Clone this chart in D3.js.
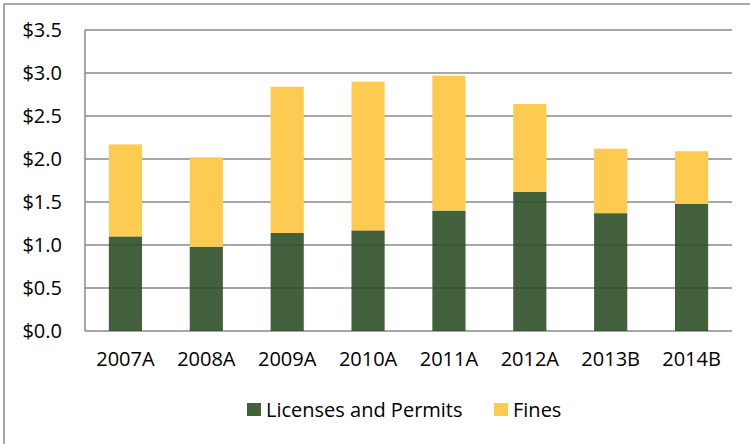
<!DOCTYPE html>
<html>
<head>
<meta charset="utf-8">
<script src="https://cdn.jsdelivr.net/npm/d3@7"></script>
<style>
  html, body { margin: 0; padding: 0; background: #fff; }
  svg { display: block; }
  text { font-family: "Open Sans", sans-serif; fill: #000; }
</style>
</head>
<body>
<svg id="chart" width="750" height="444"></svg>
<script>
const categories = ["2007A", "2008A", "2009A", "2010A", "2011A", "2012A", "2013B", "2014B"];
const licensesAndPermits = [1.10, 0.98, 1.14, 1.17, 1.40, 1.62, 1.37, 1.48];
const fines = [1.07, 1.04, 1.70, 1.73, 1.57, 1.02, 0.75, 0.61];
const yTicks = [0, 0.5, 1.0, 1.5, 2.0, 2.5, 3.0, 3.5];
const seriesNames = ["Licenses and Permits", "Fines"];
const seriesColors = ["#2e4f27", "#fdcb52"];

const svg = d3.select("#chart");
const margin = { left: 85, right: 18, top: 30, bottom: 113 };
const W = 750, H = 444;
const FONT = "'Open Sans', sans-serif";

// outer frame (top and left edges visible)
svg.append("rect")
  .attr("x", 4).attr("y", 4)
  .attr("width", 800).attr("height", 500)
  .attr("fill", "none").attr("stroke", "#8c8c8c").attr("stroke-width", 1.5);

const x = d3.scaleBand()
  .domain(categories)
  .range([margin.left, W - margin.right])
  .paddingInner(0.59).paddingOuter(0.295);

const y = d3.scaleLinear()
  .domain([0, 3.5])
  .range([H - margin.bottom, margin.top]);

// gridlines
svg.append("g")
  .selectAll("line")
  .data(yTicks)
  .join("line")
  .attr("x1", margin.left).attr("x2", W - margin.right)
  .attr("y1", d => y(d)).attr("y2", d => y(d))
  .attr("stroke", "#8a8a8a").attr("stroke-width", 1.5);

// left axis line
svg.append("line")
  .attr("x1", margin.left).attr("x2", margin.left)
  .attr("y1", y(3.5)).attr("y2", y(0))
  .attr("stroke", "#8a8a8a").attr("stroke-width", 1.5);

// y axis labels
const yAxis = d3.axisLeft(y).tickValues(yTicks)
  .tickFormat(d => "$" + d3.format(".1f")(d))
  .tickSize(0).tickPadding(23);
const gy = svg.append("g").attr("transform", `translate(${margin.left},0)`).call(yAxis);
gy.select(".domain").remove();
gy.selectAll("text").style("font-size", "20px").style("font-family", FONT).attr("fill", "#000");

// x axis labels
const xAxis = d3.axisBottom(x).tickSize(0).tickPadding(21);
const gx = svg.append("g").attr("transform", `translate(0,${y(0)})`).call(xAxis);
gx.select(".domain").remove();
gx.selectAll("text").style("font-size", "20px").style("font-family", FONT).attr("fill", "#000");

// stacked data
const rows = categories.map((c, i) => ({ cat: c, lp: licensesAndPermits[i], fines: fines[i] }));
const stack = d3.stack().keys(["lp", "fines"])(rows);

svg.append("g")
  .selectAll("g")
  .data(stack)
  .join("g")
  .attr("fill", (d, i) => seriesColors[i])
  .attr("fill-opacity", (d, i) => i === 0 ? 0.9 : 1)
  .selectAll("rect")
  .data(d => d)
  .join("rect")
  .attr("x", d => x(d.data.cat))
  .attr("width", x.bandwidth())
  .attr("y", d => y(d[1]))
  .attr("height", d => y(d[0]) - y(d[1]));

// legend
const legend = svg.append("g");
const legendItems = [
  { name: seriesNames[0], color: "#43613d", x: 247 },
  { name: seriesNames[1], color: seriesColors[1], x: 494 }
];
legendItems.forEach(it => {
  legend.append("rect").attr("x", it.x).attr("y", 403).attr("width", 14).attr("height", 13).attr("fill", it.color);
  legend.append("text").attr("x", it.x + 19).attr("y", 417)
    .style("font-size", "20px").text(it.name);
});
</script>
</body>
</html>
